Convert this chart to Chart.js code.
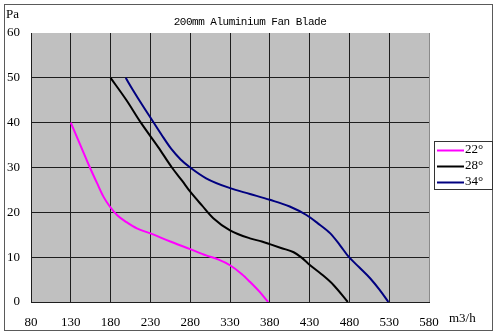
<!DOCTYPE html>
<html>
<head>
<meta charset="utf-8">
<title>200mm Aluminium Fan Blade</title>
<script src="https://cdn.jsdelivr.net/npm/chart.js@4.4.1/dist/chart.umd.min.js"></script>
<style>
  html, body { margin: 0; padding: 0; background: #fff; }
  #wrap { position: relative; width: 500px; height: 335px; }
</style>
</head>
<body>
<div id="wrap"><canvas id="fanChart" width="500" height="335"></canvas></div>
<script>
// airflow (m3/h) and static pressure (Pa) per blade angle
const flow22 = [130, 142, 154, 163, 171, 179, 188, 200, 213, 230, 255, 280, 300, 315, 330, 345, 355, 367, 378];
const pa22   = [40, 35, 30, 26.5, 23.5, 21.3, 19.4, 17.8, 16.4, 15.3, 13.5, 11.8, 10.4, 9.5, 8.2, 6.2, 4.5, 2.3, 0];

const flow28 = [180, 200, 218, 240, 257, 270, 280, 295, 309, 330, 355, 370, 380, 395, 410, 420, 428, 445, 460, 478];
const pa28   = [50, 45, 40, 34.5, 30, 27, 24.6, 21.5, 18.7, 16, 14.2, 13.5, 12.9, 12, 11.1, 9.9, 8.6, 6.2, 3.8, 0];

const flow34 = [199, 208, 221, 232, 244, 256, 268, 280, 300, 330, 355, 380, 405, 426, 440, 456, 468, 479, 492, 506, 518, 529];
const pa34   = [50, 47.3, 43.6, 40.6, 37.3, 34.2, 31.8, 30.0, 27.6, 25.4, 24.1, 22.8, 21.3, 19.4, 17.6, 15.3, 12.7, 10.1, 7.8, 5.3, 2.7, 0];

const seriesLabels = ['22°', '28°', '34°'];
const seriesColors = ['#ff00ff', '#000000', '#000080'];

const xTicks = [80, 130, 180, 230, 280, 330, 380, 430, 480, 530, 580];
const yTicks = [0, 10, 20, 30, 40, 50, 60];

const chartTitle = '200mm Aluminium Fan Blade';
const yUnit = 'Pa';
const xUnit = 'm3/h';

const toPoints = (xs, ys) => xs.map((x, i) => ({ x: x, y: ys[i] }));

const gridColor = '#1e1e1e';
const labelFont = '13px "Liberation Serif", serif';

// gray plot background, outer frame, unit labels, title and boxed legend
const decorations = {
  id: 'decorations',
  beforeDraw(chart) {
    const { ctx, chartArea: a } = chart;
    ctx.save();
    ctx.fillStyle = '#fff';
    ctx.fillRect(0, 0, chart.width, chart.height);
    ctx.fillStyle = '#c0c0c0';
    ctx.fillRect(a.left, a.top, a.right - a.left, a.bottom - a.top);
    ctx.restore();
  },
  afterDraw(chart) {
    const { ctx } = chart;
    ctx.save();
    ctx.strokeStyle = '#5a5a5a';
    ctx.lineWidth = 1;
    ctx.strokeRect(4.5, 4.5, 488, 326);

    ctx.fillStyle = '#000';
    ctx.font = labelFont;
    ctx.textBaseline = 'middle';
    ctx.textAlign = 'left';
    ctx.fillText(yUnit, 6, 15);
    ctx.fillText(xUnit, 449, 319);

    ctx.font = '11px "Liberation Mono", monospace';
    ctx.letterSpacing = '-0.5px';
    ctx.textAlign = 'center';
    ctx.fillText(chartTitle, 250, 22);
    ctx.letterSpacing = '0px';

    // legend
    ctx.strokeStyle = '#333';
    ctx.strokeRect(434.5, 141.5, 58, 48);
    ctx.font = labelFont;
    ctx.textAlign = 'left';
    chart.data.datasets.forEach((ds, i) => {
      const y = 150 + i * 16;
      ctx.strokeStyle = ds.borderColor;
      ctx.lineWidth = 2;
      ctx.beginPath();
      ctx.moveTo(437, y + 0.5);
      ctx.lineTo(464, y + 0.5);
      ctx.stroke();
      ctx.fillStyle = '#000';
      ctx.fillText(ds.label, 465, y);
    });
    ctx.restore();
  }
};

new Chart(document.getElementById('fanChart'), {
  type: 'line',
  data: {
    datasets: [
      { label: seriesLabels[0], data: toPoints(flow22, pa22) },
      { label: seriesLabels[1], data: toPoints(flow28, pa28) },
      { label: seriesLabels[2], data: toPoints(flow34, pa34) }
    ].map((ds, i) => Object.assign(ds, {
      borderColor: seriesColors[i],
      borderWidth: 2,
      pointRadius: 0,
      fill: false,
      cubicInterpolationMode: 'monotone'
    }))
  },
  options: {
    responsive: false,
    animation: false,
    layout: { padding: { left: 0, top: 33, right: 71, bottom: 0 } },
    plugins: {
      legend: { display: false },
      title: { display: false },
      tooltip: { enabled: false }
    },
    scales: {
      x: {
        type: 'linear',
        min: xTicks[0],
        max: xTicks[xTicks.length - 1],
        afterBuildTicks: scale => { scale.ticks = xTicks.map(v => ({ value: v })); },
        afterFit: scale => { scale.height = 33; },
        grid: {
          drawTicks: false,
          color: c => (c.tick && c.tick.value === xTicks[xTicks.length - 1]) ? '#8a8a8a' : gridColor
        },
        border: { color: gridColor },
        ticks: { color: '#000', font: { family: '"Liberation Serif", serif', size: 13 }, padding: 13, maxRotation: 0 }
      },
      y: {
        min: yTicks[0],
        max: yTicks[yTicks.length - 1],
        afterBuildTicks: scale => { scale.ticks = yTicks.map(v => ({ value: v })); },
        afterFit: scale => { scale.width = 31; },
        grid: {
          drawTicks: false,
          color: c => (c.tick && c.tick.value === yTicks[yTicks.length - 1]) ? 'rgba(0,0,0,0)' : gridColor
        },
        border: { color: gridColor },
        ticks: { color: '#000', font: { family: '"Liberation Serif", serif', size: 13 }, padding: 11 }
      }
    }
  },
  plugins: [decorations]
});
</script>
</body>
</html>
